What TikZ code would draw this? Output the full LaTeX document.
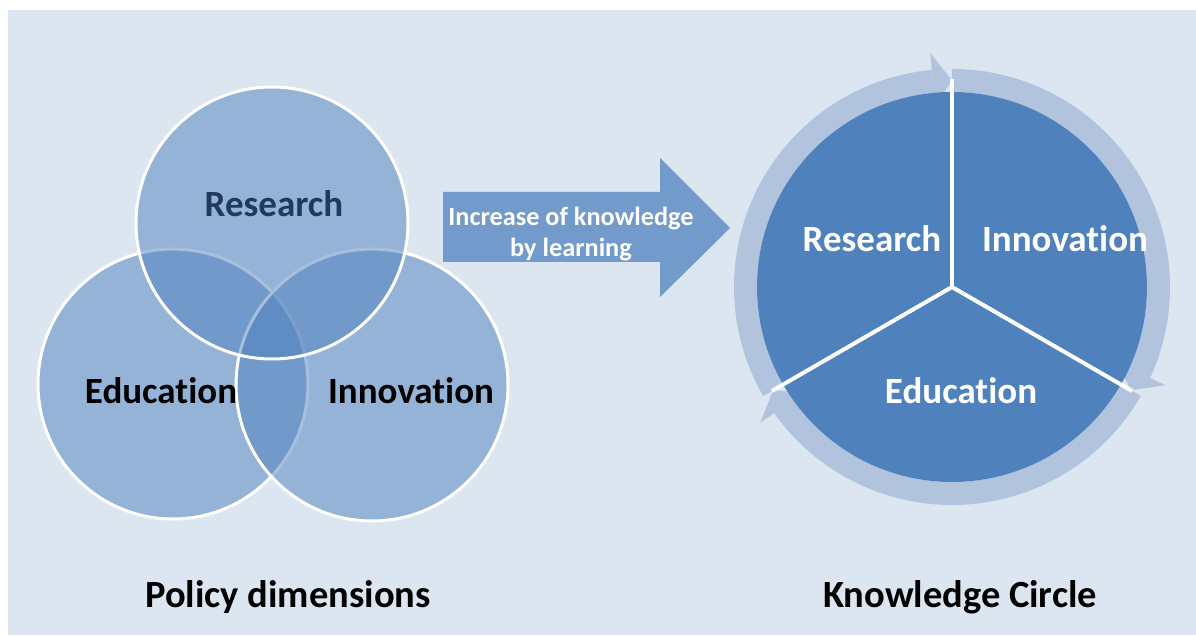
\documentclass[tikz,border=0pt]{standalone}
\usepackage{fontspec}
\setmainfont[Ligatures=NoCommon]{Carlito}
\definecolor{bgc}{HTML}{DCE6F1}
\definecolor{acc}{HTML}{4F81BD}
\definecolor{ringc}{HTML}{B2C3DE}
\definecolor{navy}{HTML}{1F3A5E}
\begin{document}
\begin{tikzpicture}[x=1pt,y=1pt,
  venn/.style={fill=acc,fill opacity=0.5,draw=white,line width=3pt},
  big/.style={font=\fontsize{37}{41}\selectfont\bfseries,anchor=base,inner sep=0pt},
  caption/.style={font=\fontsize{38.5}{42}\selectfont\bfseries,anchor=base,inner sep=0pt,text=black},
  small/.style={font=\fontsize{26.3}{30}\selectfont\bfseries,anchor=base,inner sep=0pt,text=white},
  ringfill/.style={fill=ringc},
  divider/.style={draw=white,line width=4pt}]
\useasboundingbox (0,0) rectangle (1196,635);
\fill[white] (0,0) rectangle (1196,635);
\fill[bgc] (8,0) rectangle (1196,625);
% Venn diagram
\path[venn] (173,251) circle[radius=135];
\path[venn] (372,250) circle[radius=136];
\path[venn] (272,412) circle[radius=136];
\node[big,text=navy] (vr) at (274,418) {Research};
\node[big,text=black] (ve) at (161,232) {Education};
\node[big,text=black] (vi) at (411,232) {Innovation};
% Arrow
\fill[acc,fill opacity=0.75] (443,443) -- (660,443) -- (660,477) -- (730,407) -- (660,338) -- (660,373) -- (443,373) -- cycle;
\node[small] (a1) at (571,409) {Increase of knowledge};
\node[small] (a2) at (571,378) {by learning};
% Knowledge circle
\begin{scope}[shift={(952,348)}]
  \foreach \s in {210,90,-30}{
    \pgfmathsetmacro{\e}{\s-120+5.3}
    \pgfmathsetmacro{\t}{\s-120}
    \fill[ringfill] (\s:218) arc[start angle=\s,end angle=\e,radius=218] -- (\e:195) arc[start angle=\e,end angle=\s,radius=195] -- cycle;
    \fill[ringfill] (\e:182) -- (\e:235) -- (\t:206.5) -- cycle;
  }
  \fill[acc] (0,0) circle[radius=195];
  \coordinate (kc) at (0,0);
  \coordinate (k1) at (90:208);
  \coordinate (k2) at (-30:208);
  \coordinate (k3) at (210:208);
  \draw[divider] (kc) -- (k1);
  \draw[divider] (kc) -- (k2);
  \draw[divider] (kc) -- (k3);
\end{scope}
\node[big,text=white] (kr) at (872,383) {Research};
\node[big,text=white] (ki) at (1065,383) {Innovation};
\node[big,text=white] (ke) at (961,232) {Education};
% captions
\node[caption] (cap1) at (288,28) {Policy dimensions};
\node[caption] (cap2) at (960,28) {Knowledge Circle};
\end{tikzpicture}
\end{document}
